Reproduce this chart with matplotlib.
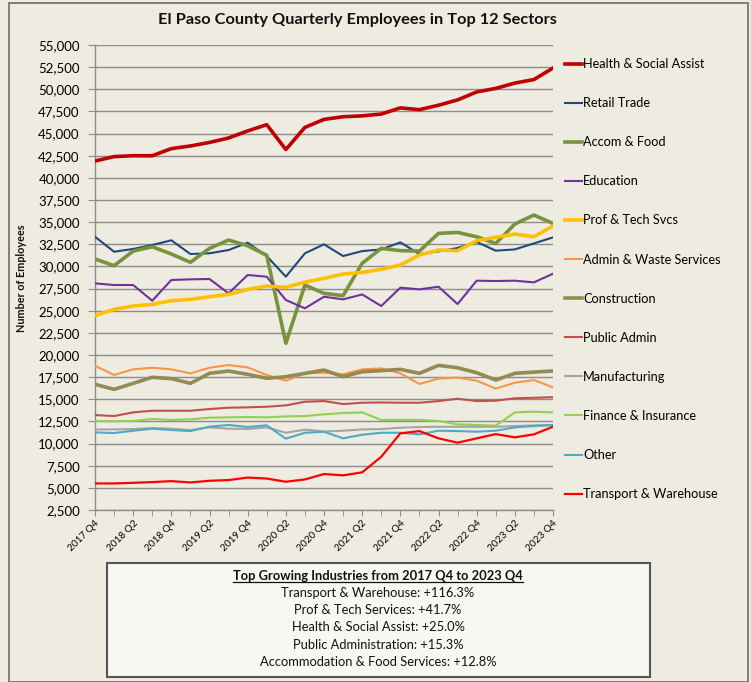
import matplotlib
matplotlib.use("Agg")
import matplotlib.pyplot as plt
from matplotlib.patches import Rectangle
from matplotlib.lines import Line2D
from matplotlib.ticker import FuncFormatter, MultipleLocator

plt.rcParams['font.family'] = ['Lato', 'DejaVu Sans']

quarters = ["2017 Q4",
            "2018 Q1", "2018 Q2", "2018 Q3", "2018 Q4",
            "2019 Q1", "2019 Q2", "2019 Q3", "2019 Q4",
            "2020 Q1", "2020 Q2", "2020 Q3", "2020 Q4",
            "2021 Q1", "2021 Q2", "2021 Q3", "2021 Q4",
            "2022 Q1", "2022 Q2", "2022 Q3", "2022 Q4",
            "2023 Q1", "2023 Q2", "2023 Q3", "2023 Q4"]

health = [41900, 42400, 42500, 42500, 43300, 43600, 44000, 44500, 45300, 46000, 43200, 45700, 46600,
          46900, 47000, 47200, 47900, 47700, 48200, 48800, 49700, 50100, 50700, 51100, 52400]
retail = [33350, 31660, 31970, 32420, 32950, 31400, 31480, 31850, 32680, 31170, 28840, 31480, 32500,
          31170, 31730, 31920, 32720, 31400, 31700, 32080, 32760, 31780, 31920, 32600, 33280]
accom = [30840, 30080, 31730, 32220, 31400, 30460, 32040, 32980, 32340, 31250, 21320, 27900, 26960,
         26700, 30350, 32040, 31780, 31730, 33730, 33840, 33350, 32600, 34790, 35800, 34850]
education = [28090, 27900, 27900, 26130, 28470, 28540, 28580, 26960, 29030, 28840, 26210, 25270, 26580,
             26280, 26840, 25530, 27600, 27410, 27710, 25750, 28390, 28350, 28390, 28200, 29180]
prof_tech = [24440, 25160, 25530, 25720, 26130, 26280, 26580, 26840, 27410, 27790, 27640, 28230, 28650,
             29140, 29330, 29670, 30160, 31290, 31850, 31780, 32910, 33290, 33660, 33350, 34560]
admin_waste = [18790, 17740, 18380, 18560, 18380, 17930, 18560, 18870, 18600, 17740, 17100, 17930, 18000,
               17820, 18380, 18490, 17930, 16730, 17330, 17450, 17100, 16200, 16870, 17170, 16350]
construction = [16690, 16120, 16800, 17480, 17330, 16800, 17930, 18190, 17820, 17370, 17550, 17930, 18300,
                17550, 18110, 18230, 18380, 17930, 18830, 18560, 18000, 17170, 17930, 18070, 18190]
public_admin = [13220, 13110, 13520, 13710, 13710, 13710, 13900, 14050, 14090, 14160, 14310, 14720, 14800,
                14460, 14610, 14640, 14610, 14610, 14800, 15060, 14800, 14840, 15110, 15170, 15240]
manufacturing = [11600, 11600, 11640, 11750, 11680, 11530, 11830, 11680, 11640, 11830, 11220, 11570, 11370,
                 11450, 11600, 11640, 11790, 11870, 11900, 11900, 11900, 11900, 11980, 12050, 12090]
finance = [12550, 12520, 12550, 12780, 12670, 12740, 12920, 12960, 13000, 12960, 13070, 13110, 13300,
           13450, 13520, 12670, 12670, 12670, 12550, 12170, 12100, 12020, 13520, 13600, 13520]
other = [11260, 11190, 11450, 11680, 11530, 11410, 11910, 12100, 11870, 12060, 10550, 11220, 11340,
         10590, 11000, 11220, 11220, 11040, 11450, 11410, 11340, 11450, 11830, 11980, 12100]
transport = [5500, 5500, 5570, 5650, 5760, 5610, 5800, 5880, 6160, 6050, 5690, 5950, 6560,
             6410, 6750, 8510, 11150, 11410, 10590, 10100, 10590, 11070, 10700, 11040, 11910]

series_names = ["Health & Social Assist", "Retail Trade", "Accom & Food", "Education",
                "Prof & Tech Svcs", "Admin & Waste Services", "Construction", "Public Admin",
                "Manufacturing", "Finance & Insurance", "Other", "Transport & Warehouse"]
series_values = [health, retail, accom, education, prof_tech, admin_waste, construction,
                 public_admin, manufacturing, finance, other, transport]
series_colors = ["#C00000", "#1F497D", "#77933C", "#7030A0", "#FFC000", "#F79646",
                 "#948A54", "#C0504D", "#A5A5A5", "#92D050", "#4BACC6", "#FF0000"]
series_widths = [2.6, 1.5, 2.6, 1.5, 2.6, 1.5, 2.6, 1.5, 1.5, 1.5, 1.5, 1.6]

title = "El Paso County Quarterly Employees in Top 12 Sectors"
ylabel = "Number of Employees"
box_title = "Top Growing Industries from 2017 Q4 to 2023 Q4"
box_lines = ["Transport & Warehouse: +116.3%",
             "Prof & Tech Services: +41.7%",
             "Health & Social Assist: +25.0%",
             "Public Administration: +15.3%",
             "Accommodation & Food Services: +12.8%"]

W, H = 751, 682
bg = "#EEEBE0"
fig = plt.figure(figsize=(W / 100, H / 100), dpi=100, facecolor=bg)

# outer frame
fig.patches.append(Rectangle((9 / W, 0), (748 - 9) / W, 1 - 3 / H, transform=fig.transFigure,
                             facecolor="none", edgecolor="#6B6B6B", linewidth=1.2))

ax = fig.add_axes([95 / W, 1 - 510 / H, (553 - 95) / W, (510 - 45) / H])
ax.set_facecolor(bg)

x = list(range(len(quarters)))
handles = []
for name, vals, col, lw in zip(series_names, series_values, series_colors, series_widths):
    ln, = ax.plot(x, vals, color=col, linewidth=lw, label=name, solid_joinstyle='round', zorder=3)
    handles.append(ln)

ax.set_xlim(0, len(quarters) - 1)
ax.set_ylim(2500, 55000)
ax.yaxis.set_major_locator(MultipleLocator(2500))
ax.yaxis.set_major_formatter(FuncFormatter(lambda v, p: f"{int(v):,}"))
ax.grid(axis='y', color="#8C8C8C", linewidth=1.0, zorder=1)
ax.set_axisbelow(True)

ax.set_xticks(x, minor=True)
ax.set_xticks(x[::2])
ax.set_xticklabels(quarters[::2], rotation=45, ha='right', rotation_mode='anchor', fontsize=7.2)
ax.tick_params(axis='x', which='both', length=4, color="#8C8C8C", pad=2)
ax.tick_params(axis='y', length=5, color="#8C8C8C", labelsize=9.5, pad=6)
for s in ['top', 'right']:
    ax.spines[s].set_visible(False)
for s in ['left', 'bottom']:
    ax.spines[s].set_color("#8C8C8C")
    ax.spines[s].set_linewidth(1.0)

fig.text(22 / W, 1 - 278 / H, ylabel, rotation=90, ha='center', va='center',
         fontsize=7.8, fontweight='bold', color="#111111")
fig.text(357 / W, 1 - 20 / H, title, ha='center', va='center', fontsize=11.8,
         fontweight='bold', color="#111111")

fig.legend(handles=handles, labels=series_names, loc='upper left',
           bbox_to_anchor=(560 / W, 1 - 53 / H), frameon=False, fontsize=9.2,
           handlelength=1.35, handletextpad=0.05, labelspacing=2.12, borderaxespad=0)

# bottom text box
bx0, by0, bx1, by1 = 107, 563, 650, 677
fig.patches.append(Rectangle((bx0 / W, 1 - by1 / H), (bx1 - bx0) / W, (by1 - by0) / H,
                             transform=fig.transFigure, facecolor="#F8F7F3",
                             edgecolor="#555555", linewidth=1.5))
cx = 378 / W
t = fig.text(cx, 1 - 576 / H, box_title, ha='center', va='center', fontsize=9.3,
             fontweight='bold', color="#111111")
for i, line in enumerate(box_lines):
    fig.text(cx, 1 - (593 + 17.2 * i) / H, line, ha='center', va='center', fontsize=9.3,
             color="#111111")

fig.canvas.draw()
bb = t.get_window_extent(renderer=fig.canvas.get_renderer())
fig.add_artist(Line2D([bb.x0 / (W), bb.x1 / (W)], [(bb.y0 + 0.5) / H, (bb.y0 + 0.5) / H],
                      transform=fig.transFigure, color="#111111", linewidth=0.9))

fig.savefig("out.png", dpi=100, facecolor=bg)
